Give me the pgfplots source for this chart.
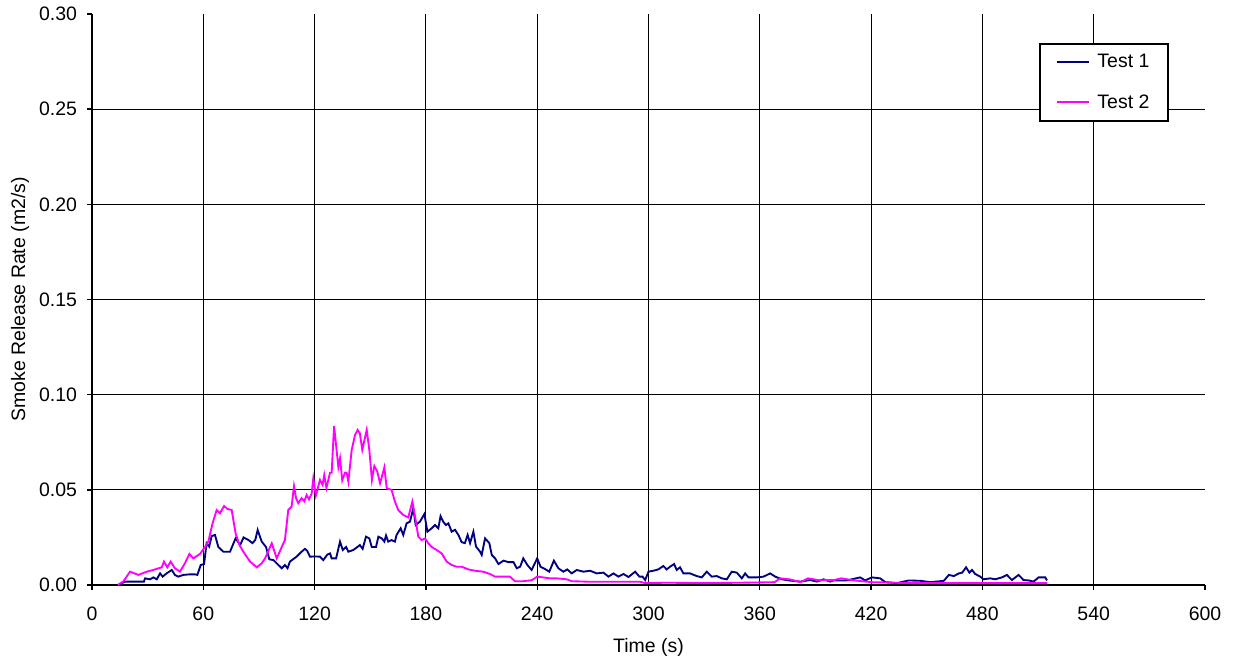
\documentclass[border=0pt]{standalone}
\usepackage{fontspec}
\setmainfont{Liberation Sans}
\usepackage{pgfplots}
\pgfplotsset{compat=1.18}
\definecolor{navyline}{HTML}{000080}
\definecolor{magline}{HTML}{FF00FF}
\begin{document}
\begin{tikzpicture}
\begin{axis}[
  name=ax,
  scale only axis,
  width=834.75pt, height=428.25pt,
  xmin=0, xmax=600, ymin=0, ymax=0.30,
  font=\fontsize{14.6pt}{17pt}\selectfont,
  axis x line*=bottom, axis y line*=left,
  x axis line style={-, line width=1.5pt},
  y axis line style={-, line width=1.5pt},
  xtick={0,60,120,180,240,300,360,420,480,540,600},
  ytick={0,0.05,0.10,0.15,0.20,0.25,0.30},
  tick align=outside,
  major tick length=3.75pt,
  tick style={black, line width=1pt},
  /pgf/number format/assume math mode=true,
  yticklabel style={/pgf/number format/.cd, fixed, fixed zerofill, precision=2, /tikz/.cd, xshift=-4pt},
  xticklabel style={yshift=-9pt},
  extra x ticks={60,120,180,240,300,360,420,480,540},
  extra x tick labels={},
  extra x tick style={xmajorgrids=true, major tick length=0pt},
  extra y ticks={0.05,0.10,0.15,0.20,0.25},
  extra y tick labels={},
  extra y tick style={ymajorgrids=true, major tick length=0pt},
  major grid style={black, line width=0.75pt},
  xlabel={Time (s)},
  ylabel={Smoke Release Rate (m2/s)},
  xlabel style={at={(axis description cs:0.5,-0.1086)}, anchor=center},
  ylabel style={at={(axis description cs:-0.0647,0.5)}, anchor=center, rotate=0},
  legend style={at={(0.9677,0.9497)}, anchor=north east, draw=black, line width=1.5pt,
    inner xsep=12pt, inner ysep=6pt, row sep=14.5pt, column sep=4pt, font=\fontsize{14.6pt}{17pt}\selectfont},
  legend cell align=left,
  legend image code/.code={\draw[#1] (0pt,0pt) -- (24pt,0pt);},
]
\addplot[navyline, line width=1.4pt] coordinates {
(14,0.000) (18,0.0018) (28,0.0018) (28.6,0.0035) (31.3,0.003) (33.1,0.004) (34.9,0.003)
(36.7,0.0061) (38.1,0.0044) (40.2,0.0061) (43,0.0079) (44.7,0.0053) (46.5,0.0044) (49.2,0.0053)
(52.8,0.0056) (55.5,0.0056) (56.8,0.0053) (58.6,0.0105) (60.4,0.011) (61.8,0.0219) (63.2,0.0202)
(64.5,0.0257) (66.3,0.0263) (68.1,0.020) (70.8,0.0175) (74.4,0.0175) (77.4,0.0245) (79.9,0.021)
(81.7,0.025) (84.4,0.0236) (86.5,0.022) (88,0.0236) (89.3,0.0289) (91.5,0.0228) (93.8,0.020)
(95.6,0.0135) (97.8,0.0131) (100.5,0.0105) (102.3,0.0088) (104,0.0105) (105.4,0.0088) (106.7,0.0123)
(110.3,0.0149) (113,0.0175) (114.8,0.019) (116,0.018) (117.5,0.0149) (120.2,0.015) (122.9,0.0149)
(124.7,0.0131) (126.9,0.016) (128.3,0.0166) (129.2,0.014) (131.6,0.014) (133.7,0.0228) (135.2,0.0184)
(137,0.020) (138.2,0.0175) (140.9,0.0184) (143.1,0.020) (144.4,0.021) (145.9,0.019) (147.7,0.0254)
(149.5,0.0245) (150.8,0.020) (153.1,0.020) (154.4,0.0254) (156.2,0.0245) (157.6,0.0228) (158.5,0.026)
(159.7,0.0228) (161.5,0.0236) (163.3,0.0228) (164.2,0.0263) (166.4,0.0298) (167.8,0.0263) (169.6,0.0324)
(171.4,0.0333) (173.2,0.0403) (174.5,0.0315) (176.8,0.0333) (179.2,0.0373) (180.8,0.028) (183.1,0.0298)
(184.9,0.0315) (186.7,0.0298) (187.9,0.0362) (189.3,0.0333) (190.8,0.0315) (192.1,0.0324) (193.9,0.028)
(195.7,0.029) (197.5,0.0263) (199.3,0.0225) (201,0.022) (202.5,0.0263) (203.8,0.022) (205.6,0.028)
(207,0.0202) (209.2,0.0175) (210.1,0.0158) (211.9,0.0245) (214.2,0.022) (215.5,0.0158) (217.3,0.014)
(219.1,0.011) (221.8,0.0128) (224.5,0.012) (227.2,0.012) (229,0.0088) (230.8,0.0096) (232.5,0.014)
(234.7,0.0105) (237,0.0079) (240,0.014) (241.8,0.0096) (244.2,0.0084) (246.5,0.007) (249,0.0128)
(251.4,0.0088) (254.1,0.007) (256.2,0.0082) (258.6,0.0061) (261.3,0.0079) (264.9,0.007) (268.5,0.0075)
(272.1,0.0061) (275.7,0.0065) (278.4,0.0044) (281.1,0.0061) (283.8,0.0044) (286.5,0.0058) (289.2,0.0042)
(292.8,0.007) (295.1,0.0044) (296.8,0.0044) (298.2,0.0026) (300,0.007) (302.6,0.0075) (305.3,0.0082)
(308,0.010) (309.8,0.0082) (311.6,0.0096) (313.8,0.011) (315.2,0.0079) (317,0.0093) (318.8,0.0061)
(322.4,0.0061) (326,0.0047) (328.7,0.004) (331.4,0.007) (334.1,0.0044) (336.8,0.0047) (339.5,0.0035)
(342.2,0.003) (344.9,0.007) (347.6,0.0065) (350.3,0.0035) (352.1,0.0061) (353.9,0.004) (358.4,0.004)
(362,0.0044) (365.6,0.0061) (368.3,0.0044) (371.9,0.003) (376.4,0.0023) (381.8,0.0018) (387.2,0.0026)
(390.8,0.0018) (394.4,0.003) (398,0.0018) (399.7,0.0024) (406.9,0.0024) (414.1,0.004) (416.8,0.0024)
(420.4,0.004) (424.9,0.0035) (427.6,0.0015) (434,0.001) (440.3,0.0024) (446.6,0.0022) (452,0.0015)
(459.2,0.0022) (461.9,0.0053) (464.6,0.0047) (467.3,0.0061) (469.1,0.0065) (471.2,0.0093) (473,0.0065)
(474.4,0.0079) (476.1,0.0058) (478.8,0.0044) (480.6,0.003) (484.2,0.0035) (486.9,0.003) (490.5,0.004)
(493.2,0.0053) (495.9,0.0026) (499.5,0.0053) (502.2,0.0026) (504.9,0.0024) (507.6,0.0018) (510.3,0.004)
(513.9,0.004) (514.8,0.0024)
};
\addlegendentry{Test 1}
\addplot[magline, line width=1.4pt] coordinates {
(14,0.000) (17,0.002) (20.5,0.007) (25,0.0053) (29.5,0.007) (33,0.0079) (37.6,0.0093) (38.8,0.0123)
(40.6,0.0093) (42.4,0.0123) (44.7,0.0088) (47.4,0.007) (50.1,0.0114) (52.5,0.0163) (54.6,0.014)
(58.2,0.0163) (60.9,0.020) (62.7,0.0228) (65,0.0324) (67.2,0.0394) (69,0.0377) (71.2,0.0415)
(73,0.040) (75.3,0.0394) (77.4,0.0272) (79.5,0.021) (81.6,0.0175) (85.2,0.0123) (88.8,0.0093)
(91.5,0.0114) (93.3,0.014) (96.9,0.0219) (99.6,0.014) (102.3,0.020) (104,0.0236) (105.8,0.0394)
(107.6,0.0412) (108.9,0.052) (110,0.0456) (111.2,0.043) (113,0.0456) (114.5,0.044) (115.7,0.0473)
(117,0.045) (118.4,0.048) (119.3,0.056) (120.7,0.047) (122.9,0.0552) (124.3,0.0526) (125.2,0.0578)
(126.4,0.051) (128.3,0.059) (129.2,0.059) (130.5,0.0836) (132.8,0.062) (133.7,0.0666) (134.9,0.055)
(136.4,0.059) (137.3,0.059) (138.2,0.0543) (140,0.071) (141.8,0.0788) (143.2,0.0815) (144.4,0.0797)
(145.7,0.071) (148.1,0.0815) (149.5,0.071) (150.9,0.0552) (152.2,0.0625) (153.8,0.0596) (155.3,0.0534)
(157.6,0.0618) (158.9,0.0508) (161.5,0.050) (163.3,0.0438) (165.1,0.0394) (167.8,0.0368) (170.5,0.0355)
(172.7,0.0438) (174.5,0.034) (175.9,0.0254) (177.7,0.0236) (179.5,0.0245) (181.3,0.0219) (183.1,0.020)
(185.8,0.0184) (188.5,0.0166) (191.2,0.0123) (193.9,0.0105) (196.6,0.0096) (199.3,0.0096) (202.9,0.0082)
(206.5,0.0075) (210.9,0.007) (214.5,0.0058) (217.3,0.0044) (221.8,0.0044) (225.3,0.0044) (228,0.002)
(232.5,0.002) (237,0.0025) (240,0.0044) (243.3,0.004) (246.9,0.0035) (250.5,0.0035) (255.9,0.003)
(258.6,0.002) (268.5,0.0017) (282.9,0.0017) (295.5,0.0017) (298.2,0.001) (310,0.0012) (330,0.001)
(350,0.0012) (368,0.0015) (371,0.0035) (376,0.003) (382,0.0015) (386,0.0035) (392,0.0025) (400,0.0026)
(404,0.0035) (410,0.0025) (420,0.0015) (440,0.001) (460,0.001) (480,0.001) (500,0.001) (515,0.001)
};
\addlegendentry{Test 2}
\end{axis}
\useasboundingbox ([xshift=-69pt, yshift=-56.25pt]ax.south west) rectangle ([xshift=22.5pt, yshift=10.5pt]ax.north east);
\end{tikzpicture}
\end{document}
